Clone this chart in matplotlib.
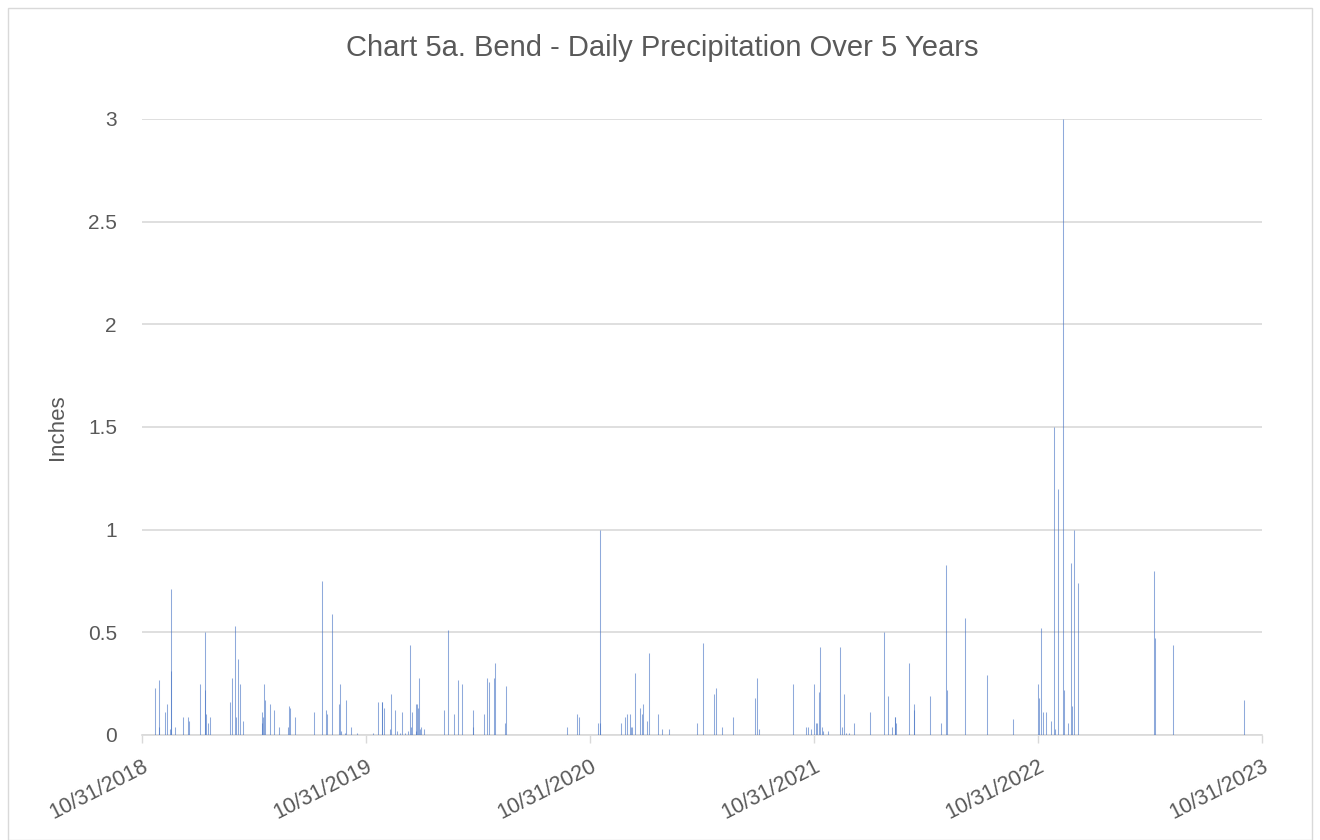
import matplotlib
matplotlib.use("Agg")
import matplotlib.pyplot as plt
from matplotlib.patches import Rectangle
import pandas as pd

title = "Chart 5a. Bend - Daily Precipitation Over 5 Years"
y_label = "Inches"
tick_dates = ["2018-10-31", "2019-10-31", "2020-10-31", "2021-10-31", "2022-10-31", "2023-10-31"]
tick_labels = ["10/31/2018", "10/31/2019", "10/31/2020", "10/31/2021", "10/31/2022", "10/31/2023"]
y_ticks = [0, 0.5, 1, 1.5, 2, 2.5, 3]
y_tick_labels = ["0", "0.5", "1", "1.5", "2", "2.5", "3"]

dates = [
    "2018-11-22", "2018-11-27", "2018-11-28", "2018-12-08", "2018-12-11", "2018-12-15",
    "2018-12-17", "2018-12-18", "2018-12-23", "2019-01-06", "2019-01-14", "2019-01-16",
    "2019-02-03", "2019-02-10", "2019-02-11", "2019-02-13", "2019-02-16", "2019-02-19",
    "2019-03-24", "2019-03-27", "2019-04-01", "2019-04-03", "2019-04-06", "2019-04-08",
    "2019-04-14", "2019-05-14", "2019-05-15", "2019-05-17", "2019-05-18", "2019-05-20",
    "2019-05-27", "2019-06-04", "2019-06-12", "2019-06-26", "2019-06-28", "2019-06-30",
    "2019-07-08", "2019-08-08", "2019-08-21", "2019-08-27", "2019-08-29", "2019-09-05",
    "2019-09-17", "2019-09-18", "2019-09-21", "2019-09-27", "2019-09-29", "2019-10-07",
    "2019-10-17", "2019-11-12", "2019-11-19", "2019-11-26", "2019-11-27", "2019-11-30",
    "2019-12-10", "2019-12-11", "2019-12-18", "2019-12-21", "2019-12-25", "2019-12-29",
    "2020-01-03", "2020-01-07", "2020-01-11", "2020-01-13", "2020-01-15", "2020-01-20",
    "2020-01-21", "2020-01-23", "2020-01-24", "2020-01-26", "2020-01-28", "2020-01-29",
    "2020-02-03", "2020-03-07", "2020-03-13", "2020-03-23", "2020-03-30", "2020-04-05",
    "2020-04-22", "2020-04-23", "2020-05-11", "2020-05-16", "2020-05-18", "2020-05-27",
    "2020-05-29", "2020-06-14", "2020-06-16", "2020-09-23", "2020-10-10", "2020-10-13",
    "2020-11-13", "2020-11-15", "2020-11-16", "2020-12-20", "2020-12-27", "2020-12-30",
    "2021-01-03", "2021-01-06", "2021-01-07", "2021-01-12", "2021-01-20", "2021-01-23",
    "2021-01-25", "2021-02-01", "2021-02-04", "2021-02-18", "2021-02-25", "2021-03-08",
    "2021-04-23", "2021-05-02", "2021-05-21", "2021-05-24", "2021-06-02", "2021-06-21",
    "2021-07-27", "2021-07-30", "2021-08-02", "2021-09-27", "2021-10-18", "2021-10-21",
    "2021-10-25", "2021-10-31", "2021-11-03", "2021-11-05", "2021-11-08", "2021-11-10",
    "2021-11-12", "2021-11-15", "2021-11-22", "2021-12-12", "2021-12-16", "2021-12-19",
    "2021-12-22", "2021-12-26", "2022-01-04", "2022-01-30", "2022-02-21", "2022-03-01",
    "2022-03-07", "2022-03-11", "2022-03-12", "2022-03-14", "2022-04-04", "2022-04-11",
    "2022-04-12", "2022-05-08", "2022-05-26", "2022-06-02", "2022-06-05", "2022-07-04",
    "2022-08-09", "2022-09-20", "2022-10-31", "2022-11-02", "2022-11-05", "2022-11-08",
    "2022-11-13", "2022-11-21", "2022-11-26", "2022-11-28", "2022-12-03", "2022-12-11",
    "2022-12-12", "2022-12-19", "2022-12-24", "2022-12-26", "2022-12-29", "2023-01-04",
    "2023-05-08", "2023-05-10", "2023-06-08", "2023-10-02",
]
precip = [
    0.23, 0.27, 0.04, 0.11, 0.15, 0.03,
    0.31, 0.71, 0.04, 0.09, 0.09, 0.07,
    0.25, 0.22, 0.50, 0.10, 0.06, 0.09,
    0.16, 0.28, 0.53, 0.09, 0.37, 0.25,
    0.07, 0.06, 0.11, 0.09, 0.25, 0.17,
    0.15, 0.12, 0.04, 0.04, 0.14, 0.13,
    0.09, 0.11, 0.75, 0.12, 0.10, 0.59,
    0.15, 0.25, 0.02, 0.01, 0.17, 0.04,
    0.01, 0.01, 0.16, 0.16, 0.16, 0.13,
    0.03, 0.20, 0.12, 0.02, 0.01, 0.11,
    0.01, 0.02, 0.44, 0.04, 0.11, 0.15,
    0.02, 0.15, 0.13, 0.28, 0.03, 0.04,
    0.03, 0.12, 0.51, 0.10, 0.27, 0.25,
    0.12, 0.04, 0.10, 0.28, 0.26, 0.28,
    0.35, 0.06, 0.24, 0.04, 0.10, 0.09,
    0.06, 1.00, 0.06, 0.06, 0.09, 0.10,
    0.10, 0.04, 0.04, 0.30, 0.13, 0.10,
    0.15, 0.07, 0.40, 0.10, 0.03, 0.03,
    0.06, 0.45, 0.20, 0.23, 0.04, 0.09,
    0.18, 0.28, 0.03, 0.25, 0.04, 0.04,
    0.03, 0.25, 0.06, 0.06, 0.21, 0.43,
    0.04, 0.02, 0.02, 0.43, 0.04, 0.20,
    0.01, 0.01, 0.06, 0.11, 0.50, 0.19,
    0.04, 0.09, 0.09, 0.06, 0.35, 0.15,
    0.12, 0.19, 0.06, 0.83, 0.22, 0.57,
    0.29, 0.08, 0.25, 0.18, 0.52, 0.11,
    0.11, 0.07, 1.50, 0.03, 1.20, 3.00,
    0.22, 0.06, 0.84, 0.14, 1.00, 0.74,
    0.80, 0.47, 0.44, 0.17,
]

text_color = "#595959"
grid_color = "#D9D9D9"
bar_color = "#4472C4"
plt.rcParams["font.family"] = ["Liberation Sans", "DejaVu Sans"]

fig = plt.figure(figsize=(13.2, 8.4), dpi=100)
fig.patches.append(Rectangle((8 / 1320, 0.0), 1304 / 1320, 832 / 840, transform=fig.transFigure,
                             fill=False, edgecolor="#D9D9D9", linewidth=1.0))
ax = fig.add_axes([142 / 1320, 1 - 735 / 840, 1120 / 1320, 616 / 840])

x = pd.to_datetime(dates)
ax.vlines(x, 0, precip, colors=bar_color, linewidth=0.75, alpha=0.6, zorder=3)

ticks = pd.to_datetime(tick_dates)
ax.set_xlim(ticks[0], ticks[-1])
ax.set_ylim(0, 3)
ax.set_xticks(ticks)
ax.set_xticklabels(tick_labels, rotation=27, ha="right", rotation_mode="anchor",
                   fontsize=15.5, color=text_color)
ax.set_yticks(y_ticks)
ax.set_yticklabels(y_tick_labels, fontsize=15, color=text_color)
ax.tick_params(axis="y", length=0, pad=18)
ax.tick_params(axis="x", length=6, width=1, color=grid_color, direction="out", pad=9)
ax.grid(axis="y", color=grid_color, linewidth=1.2, zorder=0)
ax.set_axisbelow(True)
for side in ["top", "right", "left"]:
    ax.spines[side].set_visible(False)
ax.spines["bottom"].set_color(grid_color)
ax.spines["bottom"].set_linewidth(1.2)

ax.set_ylabel(y_label, fontsize=16, color=text_color, labelpad=14)
fig.text(662 / 1320, 1 - 48 / 840, title, ha="center", va="center", fontsize=21, color=text_color)

fig.savefig("out.png", dpi=100)
